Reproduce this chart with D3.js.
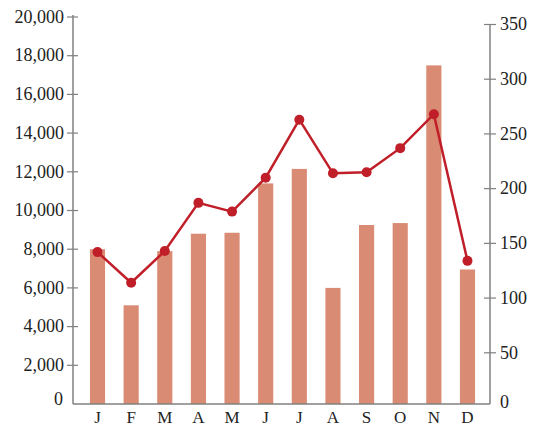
<!DOCTYPE html>
<html>
<head>
<meta charset="utf-8">
<script src="https://cdn.jsdelivr.net/npm/d3@7"></script>
<style>
  html, body { margin: 0; padding: 0; background: #fff; }
  svg text { font-family: "Liberation Serif", "Times New Roman", serif; fill: #222; }
</style>
</head>
<body>
<svg id="chart" width="533" height="427"></svg>
<script>
// Monthly figures: bars on the left axis, line on the right axis
const months = ["J", "F", "M", "A", "M", "J", "J", "A", "S", "O", "N", "D"];
const barValues = [8000, 5100, 7900, 8800, 8850, 11400, 12150, 6000, 9250, 9350, 17500, 6950];
const lineValues = [142, 114, 143, 187, 179, 210, 263, 214, 215, 237, 268, 134];
const leftTicks = [0, 2000, 4000, 6000, 8000, 10000, 12000, 14000, 16000, 18000, 20000];
const rightTicks = [0, 50, 100, 150, 200, 250, 300, 350];

const svg = d3.select("#chart");
const axisColor = "#808080";
const barColor = "#da8b74";
const lineColor = "#c01e28";

const xLeft = 73, xRight = 490, yBase = 404;

const x = d3.scaleBand()
  .domain(d3.range(months.length))
  .range([80.7, 484.3])
  .paddingInner(0.55)
  .paddingOuter(0.275);

const yL = d3.scaleLinear().domain([0, 20000]).range([yBase, 17]);
const yR = d3.scaleLinear().domain([0, 350]).range([407.5, 24.5]);

// bars
svg.append("g")
  .selectAll("rect")
  .data(barValues)
  .join("rect")
  .attr("x", (d, i) => x(i))
  .attr("width", x.bandwidth())
  .attr("y", d => yL(d))
  .attr("height", d => yBase - yL(d))
  .attr("fill", barColor);

// left axis
const leftAxis = svg.append("g").attr("transform", `translate(${xLeft},0)`);
leftAxis.append("line")
  .attr("x1", 0).attr("x2", 0)
  .attr("y1", 15).attr("y2", yBase)
  .attr("stroke", axisColor).attr("stroke-width", 1.5);
const lt = leftAxis.selectAll("g.tick").data(leftTicks).join("g")
  .attr("class", "tick")
  .attr("transform", d => `translate(0,${yL(d)})`);
lt.filter(d => d !== 0).append("line")
  .attr("x1", -6).attr("x2", 5)
  .attr("stroke", axisColor).attr("stroke-width", 1.2);
lt.append("text")
  .attr("x", d => d === 0 ? -10 : -9)
  .attr("y", d => d === 0 ? -5 : 0)
  .attr("dy", "0.32em")
  .attr("text-anchor", "end")
  .attr("font-size", 18)
  .text(d => d3.format(",")(d));

// right axis
const rightAxis = svg.append("g").attr("transform", `translate(${xRight},0)`);
rightAxis.append("line")
  .attr("x1", 0).attr("x2", 0)
  .attr("y1", 24).attr("y2", yBase)
  .attr("stroke", axisColor).attr("stroke-width", 1.5);
const rt = rightAxis.selectAll("g.tick").data(rightTicks).join("g")
  .attr("class", "tick")
  .attr("transform", d => `translate(0,${yR(d)})`);
rt.filter(d => d !== 0).append("line")
  .attr("x1", -6).attr("x2", 6)
  .attr("stroke", axisColor).attr("stroke-width", 1.2);
rt.append("text")
  .attr("x", 10)
  .attr("y", d => d === 0 ? -5 : 0)
  .attr("dy", "0.32em")
  .attr("text-anchor", "start")
  .attr("font-size", 18)
  .text(d => d);

// baseline
svg.append("line")
  .attr("x1", xLeft).attr("x2", xRight)
  .attr("y1", yBase).attr("y2", yBase)
  .attr("stroke", axisColor).attr("stroke-width", 1.5);

// month labels
svg.append("g")
  .selectAll("text")
  .data(months)
  .join("text")
  .attr("x", (d, i) => x(i) + x.bandwidth() / 2)
  .attr("y", 423)
  .attr("text-anchor", "middle")
  .attr("font-size", 17)
  .text(d => d);

// line series
const line = d3.line()
  .x((d, i) => x(i) + x.bandwidth() / 2)
  .y(d => yR(d));
svg.append("path")
  .datum(lineValues)
  .attr("d", line)
  .attr("fill", "none")
  .attr("stroke", lineColor)
  .attr("stroke-width", 2.5);
svg.append("g")
  .selectAll("circle")
  .data(lineValues)
  .join("circle")
  .attr("cx", (d, i) => x(i) + x.bandwidth() / 2)
  .attr("cy", d => yR(d))
  .attr("r", 5)
  .attr("fill", lineColor);
</script>
</body>
</html>
